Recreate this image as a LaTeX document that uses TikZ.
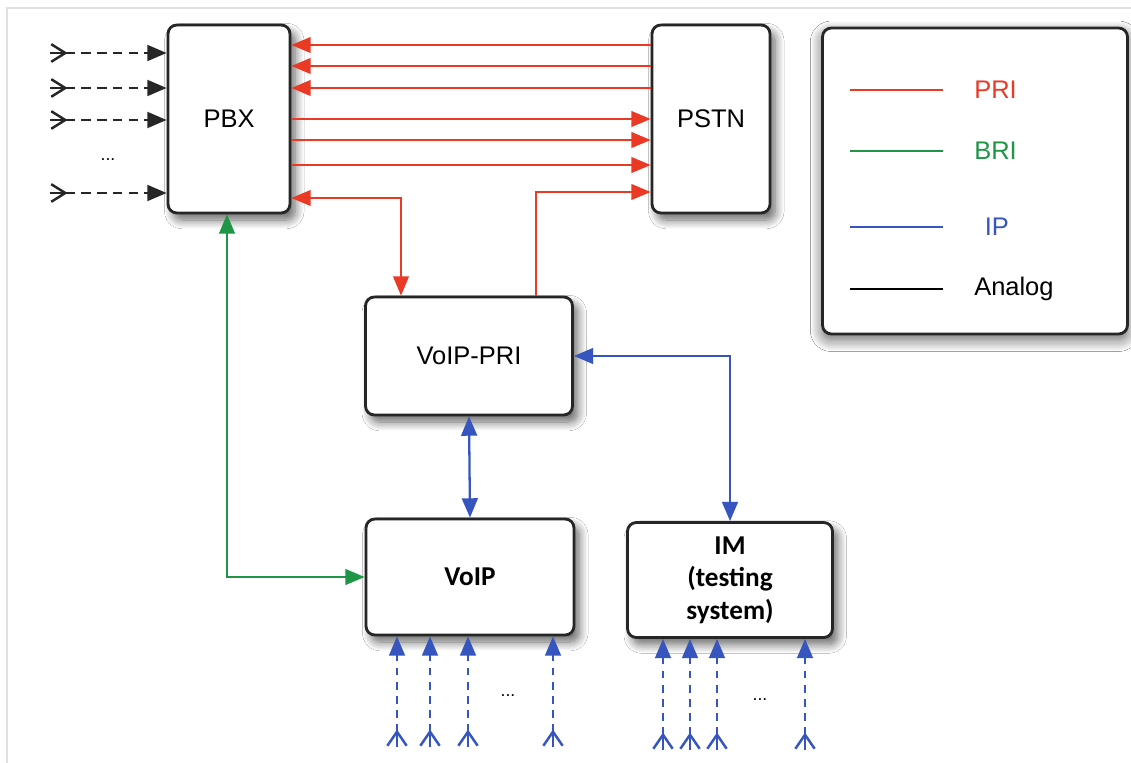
\documentclass[tikz,border=0pt]{standalone}
\usepackage{fontspec}
\setmainfont{Liberation Sans}
\newfontfamily\calibri{Carlito}
\usepackage{tikz}
\usetikzlibrary{arrows.meta,positioning,shadows.blur}

\definecolor{prired}{RGB}{234,58,38}
\definecolor{brigreen}{RGB}{30,150,70}
\definecolor{ipblue}{RGB}{55,85,190}

\begin{document}
\begin{tikzpicture}[x=0.02cm,y=-0.02cm,>={Triangle[length=11pt,width=9pt]},semithick]
		\tikzset{
			box/.style={draw=black!85,line width=1.6pt,rounded corners=5pt,fill=white,
				blur shadow={shadow xshift=3pt,shadow yshift=-4pt,shadow blur radius=5pt,shadow blur steps=10,shadow opacity=60},
				font=\fontsize{14.5}{17}\selectfont},
			pri/.style={prired,line width=0.9pt},
			bri/.style={brigreen,line width=1.1pt},
			ip/.style={ipblue,line width=1.3pt},
			anin/.style={black!85,line width=1.4pt,dash pattern=on 5.5pt off 3.5pt,
				{Straight Barb[reversed,length=8pt,width=10pt]}->},
			ipin/.style={ipblue,line width=1.4pt,dash pattern=on 4.5pt off 3.5pt,
				{Straight Barb[reversed,length=8pt,width=11pt]}->},
			stem/.style={line width=1.4pt},
			dots/.style={font=\fontsize{10}{12}\selectfont},
			leg/.style={font=\fontsize{14.5}{17}\selectfont,anchor=west}
		}

		% frame and page
		\useasboundingbox (0,0) rectangle (1131,763);
		\fill[white] (0,0) rectangle (1131,763);
		\draw[black!12,line width=1.2pt] (7,763) -- (7,8) -- (1131,8);

		% boxes
		\node[box,minimum width=2.44cm,minimum height=3.76cm] (pbx) at (229,119) {PBX};
		\node[box,minimum width=2.36cm,minimum height=3.76cm] (pstn) at (711,119) {PSTN};
		\node[box,minimum width=4.14cm,minimum height=2.36cm] (voippri) at (469,356) {VoIP-PRI};
		\node[box,minimum width=4.16cm,minimum height=2.32cm,font=\calibri\bfseries\fontsize{15.5}{18}\selectfont] (voip) at (470,577) {VoIP};
		\node[box,minimum width=4.1cm,minimum height=2.3cm,align=center,font=\calibri\bfseries\fontsize{15.5}{18.5}\selectfont] (im) at (730,580) {IM\\(testing\\system)};

		% legend
		\node[box,minimum width=6.1cm,minimum height=6.12cm,
			blur shadow={shadow xshift=0pt,shadow yshift=-3pt,shadow blur radius=7pt,shadow opacity=35}] (legend) at (975,181) {};
		\draw[pri] (850,90) -- (943,90) node[leg,prired,right=14pt] {PRI};
		\draw[brigreen,line width=0.9pt] (850,151) -- (943,151) node[leg,brigreen,right=14pt] {BRI};
		\draw[ipblue,line width=0.9pt] (850,227) -- (943,227) node[leg,ipblue,right=20pt] {IP};
		\draw[black,line width=0.9pt] (850,289) -- (943,289) node[leg,black,right=14pt] {Analog};

		% PRI trunks
		\foreach \y in {45,66,88}
			\draw[pri,->] (pstn.west |- 0,\y) -- (pbx.east |- 0,\y);
		\foreach \y in {119,140,165}
			\draw[pri,->] (pbx.east |- 0,\y) -- (pstn.west |- 0,\y);
		\draw[pri,<->] (pbx.east |- 0,198) -| (voippri.north -| 401,0);
		\draw[pri,->] (voippri.north -| 536,0) |- (pstn.west |- 0,192);

		% BRI
		\draw[bri,<->] (pbx.south -| 227,0) |- (voip.west);

		% IP
		\draw[ip,<->] (voippri.south) -- (voip.north);
		\draw[ip,<->] (voippri.east) -| (im.north);

		% analog lines into PBX
		\foreach \y in {53,88,120,193}{
			\draw[anin] (50,\y) -- (pbx.west |- 0,\y);
			\draw[stem,black!85] (50,\y) -- ++(16,0);
		}
		\node[dots] (pbxdots) at (108,160) {...};

		% IP lines into VoIP and IM
		\foreach \x in {397,430,468,553}{
			\draw[ipin] (\x,747) -- (voip.south -| \x,0);
			\draw[stem,ipblue] (\x,747) -- ++(0,-16);
		}
		\node[dots] (voipdots) at (508,696) {...};
		\foreach \x in {663,690,717,805}{
			\draw[ipin] (\x,750) -- (im.south -| \x,0);
			\draw[stem,ipblue] (\x,750) -- ++(0,-16);
		}
		\node[dots] (imdots) at (760,700) {...};
	\end{tikzpicture}
\end{document}
